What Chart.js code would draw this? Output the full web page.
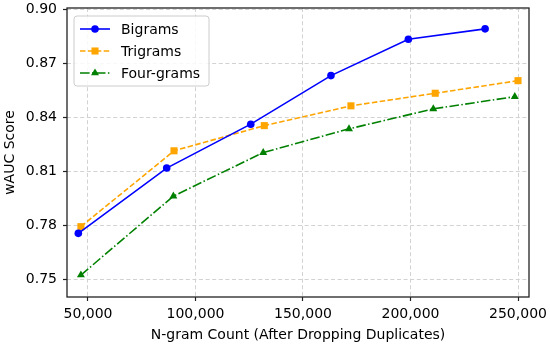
<!DOCTYPE html>
<html>
<head>
<meta charset="utf-8">
<script src="https://cdn.jsdelivr.net/npm/chart.js@4"></script>
<style>
  html, body { margin: 0; padding: 0; background: #fff; }
  #wrap { width: 550px; height: 345px; }
</style>
</head>
<body>
<div id="wrap"><canvas id="ngram-chart" width="550" height="345"></canvas></div>
<script>
// values
const bigramX   = [45500, 86600, 125700, 163000, 199000, 234700];
const bigramY   = [0.7754, 0.8117, 0.8361, 0.8631, 0.8833, 0.8891];
const trigramX  = [46700, 90000, 132000, 172300, 211500, 250000];
const trigramY  = [0.7791, 0.8213, 0.8353, 0.8463, 0.8533, 0.8603];
const fourgramX = [46700, 89700, 131500, 171400, 210600, 248500];
const fourgramY = [0.7522, 0.7961, 0.8203, 0.8335, 0.8446, 0.8514];

const xTicks = [50000, 100000, 150000, 200000, 250000];
const yTicks = [0.75, 0.78, 0.81, 0.84, 0.87, 0.90];

const toPoints = (xs, ys) => xs.map((x, i) => ({ x: x, y: ys[i] }));

const FONT = "'DejaVu Sans', sans-serif";

// frame round the plot + legend box in the top-left corner
const framePlugin = {
  id: "frame",
  afterDraw(chart) {
    const ctx = chart.ctx;
    const a = chart.chartArea;
    ctx.save();
    ctx.strokeStyle = "#222";
    ctx.lineWidth = 1.3;
    ctx.strokeRect(a.left, a.top, a.right - a.left, a.bottom - a.top);

    // legend
    const bx = 74, by = 16, bw = 135, bh = 70;
    ctx.beginPath();
    ctx.roundRect(bx, by, bw, bh, 3);
    ctx.fillStyle = "rgba(255,255,255,0.85)";
    ctx.fill();
    ctx.strokeStyle = "#cccccc";
    ctx.lineWidth = 1;
    ctx.stroke();

    const rowsY = [29, 51, 73];
    chart.data.datasets.forEach((ds, i) => {
      const y = rowsY[i];
      ctx.beginPath();
      ctx.setLineDash(ds.borderDash || []);
      ctx.strokeStyle = ds.borderColor;
      ctx.lineWidth = ds.borderWidth;
      ctx.moveTo(80, y);
      ctx.lineTo(110, y);
      ctx.stroke();
      ctx.setLineDash([]);
      ctx.fillStyle = ds.pointBackgroundColor;
      ctx.strokeStyle = ds.pointBorderColor;
      Chart.helpers.drawPoint(ctx, { pointStyle: ds.pointStyle, radius: ds.pointRadius, borderWidth: 0, rotation: 0 }, 95, y);
      ctx.fillStyle = "#000";
      ctx.font = "14px " + FONT;
      ctx.textBaseline = "middle";
      ctx.textAlign = "left";
      ctx.fillText(ds.label, 121, y + 1);
    });
    ctx.restore();
  }
};

const gridOpts = {
  color: "#d2d2d2",
  lineWidth: 1,
  drawTicks: true,
  tickLength: 4,
  tickColor: "#222",
  tickBorderDash: [],
  tickWidth: 1.2,
};

const ctxNgram = document.querySelector("#ngram-chart").getContext("2d");

const ngramChart = new Chart(ctxNgram, {
  type: "line",
  data: {
    datasets: [
      {
        label: "Bigrams",
        data: toPoints(bigramX, bigramY),
        borderColor: "#0000ff",
        backgroundColor: "#0000ff",
        pointBackgroundColor: "#0000ff",
        pointBorderColor: "#0000ff",
        borderWidth: 1.6,
        pointStyle: "circle",
        pointRadius: 3.8,
        pointBorderWidth: 0,
      },
      {
        label: "Trigrams",
        data: toPoints(trigramX, trigramY),
        borderColor: "#ffa500",
        backgroundColor: "#ffa500",
        pointBackgroundColor: "#ffa500",
        pointBorderColor: "#ffa500",
        borderWidth: 1.6,
        borderDash: [5.5, 2.4],
        pointStyle: "rect",
        pointRadius: 5,
        pointBorderWidth: 0,
      },
      {
        label: "Four-grams",
        data: toPoints(fourgramX, fourgramY),
        borderColor: "#008000",
        backgroundColor: "#008000",
        pointBackgroundColor: "#008000",
        pointBorderColor: "#008000",
        borderWidth: 1.6,
        borderDash: [9.6, 2.4, 1.5, 2.4],
        pointStyle: "triangle",
        pointRadius: 4.6,
        pointBorderWidth: 0,
      },
    ],
  },
  options: {
    responsive: false,
    animation: false,
    layout: { padding: { top: 8, right: 21, left: 0, bottom: 0 } },
    plugins: {
      legend: { display: false },
      tooltip: { enabled: false },
    },
    elements: { line: { tension: 0 } },
    scales: {
      x: {
        type: "linear",
        min: 40233,
        max: 255116,
        afterFit(scale) {
          scale.height = 48;
          scale.paddingLeft = 0;
          scale.paddingRight = 0;
        },
        afterBuildTicks(scale) { scale.ticks = xTicks.map(v => ({ value: v })); },
        ticks: {
          color: "#000",
          font: { family: FONT, size: 14 },
          padding: 5,
          maxRotation: 0,
          callback: v => v.toLocaleString("en-US"),
        },
        grid: gridOpts,
        border: { display: false, dash: [4, 2.6] },
        title: {
          display: true,
          text: "N-gram Count (After Dropping Duplicates)",
          color: "#000",
          font: { family: FONT, size: 14 },
          padding: { top: 0, bottom: 1 },
        },
      },
      y: {
        min: 0.74,
        max: 0.9007,
        afterFit(scale) {
          scale.width = 67;
          scale.paddingTop = 0;
          scale.paddingBottom = 0;
        },
        afterBuildTicks(scale) { scale.ticks = yTicks.map(v => ({ value: v })); },
        ticks: {
          color: "#000",
          font: { family: FONT, size: 14 },
          padding: 6,
          callback: v => v.toFixed(2),
        },
        grid: gridOpts,
        border: { display: false, dash: [4, 2.6] },
        title: {
          display: true,
          text: "wAUC Score",
          color: "#000",
          font: { family: FONT, size: 14 },
          padding: { top: 2, bottom: 0 },
        },
      },
    },
  },
  plugins: [framePlugin],
});
</script>
</body>
</html>
